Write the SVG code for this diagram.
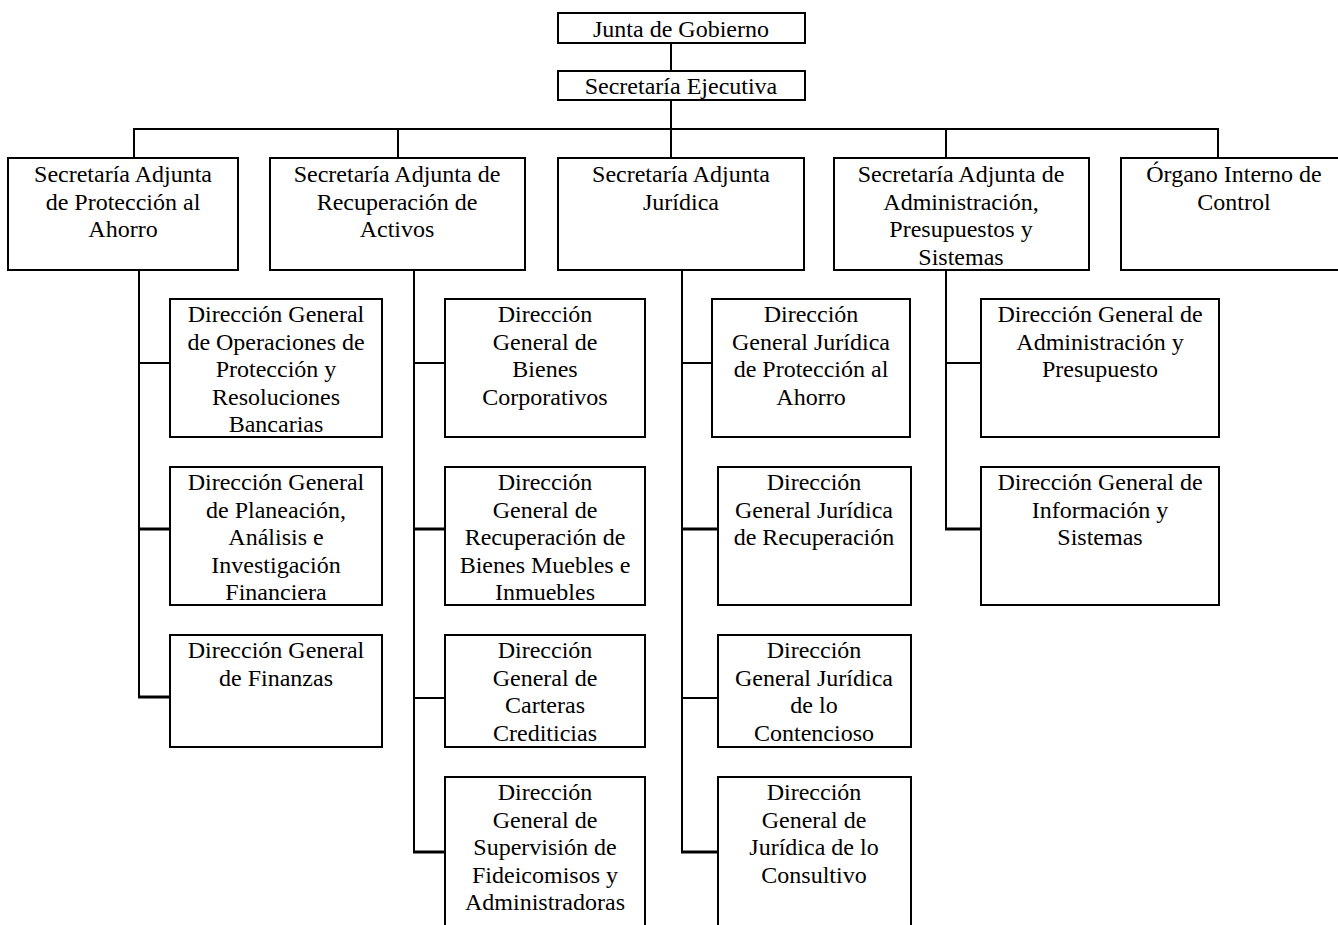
<svg xmlns="http://www.w3.org/2000/svg" width="1338" height="925" viewBox="0 0 1338 925">
<style>
rect.b{fill:#fff;stroke:#000;stroke-width:2}
text{font-size:24px;fill:#000;text-anchor:middle}
.c line{stroke:#000;stroke-width:2}
.c line.t{stroke-width:3}
</style>
<rect width="1338" height="925" fill="#fff"/>
<g font-family="Liberation Serif, Times New Roman, DejaVu Serif, serif">
<g class="c" id="connectors">
<line x1="671" y1="43" x2="671" y2="71"/>
<line x1="671" y1="100" x2="671" y2="158"/>
<line x1="133" y1="129" x2="1219" y2="129"/>
<line x1="134" y1="129" x2="134" y2="158"/>
<line x1="398" y1="129" x2="398" y2="158"/>
<line x1="946" y1="129" x2="946" y2="158"/>
<line x1="1218" y1="129" x2="1218" y2="158"/>
<line x1="139" y1="270" x2="139" y2="698"/>
<line x1="139" y1="363" x2="170" y2="363"/>
<line class="t" x1="139" y1="529" x2="170" y2="529"/>
<line class="t" x1="138" y1="697" x2="170" y2="697"/>
<line x1="414" y1="270" x2="414" y2="853"/>
<line x1="414" y1="363" x2="445" y2="363"/>
<line class="t" x1="414" y1="529" x2="445" y2="529"/>
<line x1="414" y1="698" x2="445" y2="698"/>
<line class="t" x1="413" y1="852" x2="445" y2="852"/>
<line x1="682" y1="270" x2="682" y2="853"/>
<line x1="682" y1="363" x2="712" y2="363"/>
<line class="t" x1="682" y1="529" x2="718" y2="529"/>
<line x1="682" y1="698" x2="718" y2="698"/>
<line class="t" x1="681" y1="852" x2="718" y2="852"/>
<line x1="946" y1="270" x2="946" y2="530"/>
<line x1="946" y1="363" x2="981" y2="363"/>
<line class="t" x1="945" y1="529" x2="981" y2="529"/>
</g>
<g id="junta"><rect class="b" x="558" y="13" width="247" height="30"/><text x="681" y="37">Junta de Gobierno</text></g>
<g id="ejecutiva"><rect class="b" x="558" y="71" width="247" height="29"/><text x="681" y="94">Secretaría Ejecutiva</text></g>
<g id="sa-proteccion"><rect class="b" x="8" y="158" width="230" height="112"/><text x="123" y="182">Secretaría Adjunta</text><text x="123" y="209.5">de Protección al</text><text x="123" y="237">Ahorro</text></g>
<g id="sa-recuperacion"><rect class="b" x="270" y="158" width="255" height="112"/><text x="397" y="182">Secretaría Adjunta de</text><text x="397" y="209.5">Recuperación de</text><text x="397" y="237">Activos</text></g>
<g id="sa-juridica"><rect class="b" x="558" y="158" width="246" height="112"/><text x="681" y="182">Secretaría Adjunta</text><text x="681" y="209.5">Jurídica</text></g>
<g id="sa-administracion"><rect class="b" x="834" y="158" width="255" height="112"/><text x="961" y="182">Secretaría Adjunta de</text><text x="961" y="209.5">Administración,</text><text x="961" y="237">Presupuestos y</text><text x="961" y="264.5">Sistemas</text></g>
<g id="oic"><rect class="b" x="1121" y="158" width="226" height="112"/><text x="1234" y="182">Órgano Interno de</text><text x="1234" y="209.5">Control</text></g>
<g id="dg-operaciones"><rect class="b" x="170" y="299" width="212" height="138"/><text x="276" y="322">Dirección General</text><text x="276" y="349.5">de Operaciones de</text><text x="276" y="377">Protección y</text><text x="276" y="404.5">Resoluciones</text><text x="276" y="432">Bancarias</text></g>
<g id="dg-planeacion"><rect class="b" x="170" y="467" width="212" height="138"/><text x="276" y="490">Dirección General</text><text x="276" y="517.5">de Planeación,</text><text x="276" y="545">Análisis e</text><text x="276" y="572.5">Investigación</text><text x="276" y="600">Financiera</text></g>
<g id="dg-finanzas"><rect class="b" x="170" y="635" width="212" height="112"/><text x="276" y="658">Dirección General</text><text x="276" y="685.5">de Finanzas</text></g>
<g id="dg-bienes-corp"><rect class="b" x="445" y="299" width="200" height="138"/><text x="545" y="322">Dirección</text><text x="545" y="349.5">General de</text><text x="545" y="377">Bienes</text><text x="545" y="404.5">Corporativos</text></g>
<g id="dg-recuperacion-bienes"><rect class="b" x="445" y="467" width="200" height="138"/><text x="545" y="490">Dirección</text><text x="545" y="517.5">General de</text><text x="545" y="545">Recuperación de</text><text x="545" y="572.5">Bienes Muebles e</text><text x="545" y="600">Inmuebles</text></g>
<g id="dg-carteras"><rect class="b" x="445" y="635" width="200" height="112"/><text x="545" y="658">Dirección</text><text x="545" y="685.5">General de</text><text x="545" y="713">Carteras</text><text x="545" y="740.5">Crediticias</text></g>
<g id="dg-supervision"><rect class="b" x="445" y="777" width="200" height="160"/><text x="545" y="800">Dirección</text><text x="545" y="827.5">General de</text><text x="545" y="855">Supervisión de</text><text x="545" y="882.5">Fideicomisos y</text><text x="545" y="910">Administradoras</text></g>
<g id="dgj-proteccion"><rect class="b" x="712" y="299" width="198" height="138"/><text x="811" y="322">Dirección</text><text x="811" y="349.5">General Jurídica</text><text x="811" y="377">de Protección al</text><text x="811" y="404.5">Ahorro</text></g>
<g id="dgj-recuperacion"><rect class="b" x="718" y="467" width="193" height="138"/><text x="814" y="490">Dirección</text><text x="814" y="517.5">General Jurídica</text><text x="814" y="545">de Recuperación</text></g>
<g id="dgj-contencioso"><rect class="b" x="718" y="635" width="193" height="112"/><text x="814" y="658">Dirección</text><text x="814" y="685.5">General Jurídica</text><text x="814" y="713">de lo</text><text x="814" y="740.5">Contencioso</text></g>
<g id="dgj-consultivo"><rect class="b" x="718" y="777" width="193" height="160"/><text x="814" y="800">Dirección</text><text x="814" y="827.5">General de</text><text x="814" y="855">Jurídica de lo</text><text x="814" y="882.5">Consultivo</text></g>
<g id="dg-administracion"><rect class="b" x="981" y="299" width="238" height="138"/><text x="1100" y="322">Dirección General de</text><text x="1100" y="349.5">Administración y</text><text x="1100" y="377">Presupuesto</text></g>
<g id="dg-informacion"><rect class="b" x="981" y="467" width="238" height="138"/><text x="1100" y="490">Dirección General de</text><text x="1100" y="517.5">Información y</text><text x="1100" y="545">Sistemas</text></g>
</g>
</svg>
